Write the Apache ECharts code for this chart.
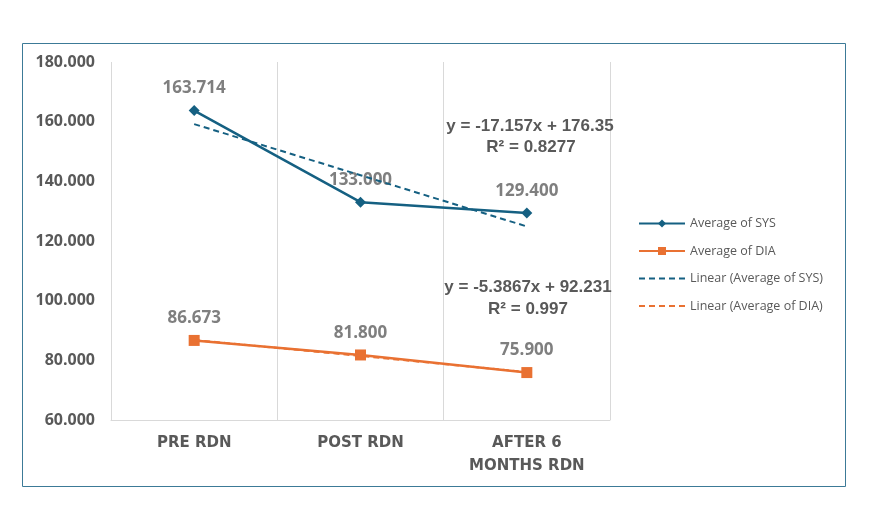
<!DOCTYPE html>
<html>
<head>
<meta charset="utf-8">
<script src="https://cdn.jsdelivr.net/npm/echarts@6/dist/echarts.min.js"></script>
<style>html,body{margin:0;padding:0;background:#fff;}#c{width:874px;height:517px;}</style>
</head>
<body>
<div id="c"></div>
<script>
var categories = ['PRE RDN', 'POST RDN', 'AFTER 6\nMONTHS RDN'];
var sysValues = [163.714, 133.000, 129.400];
var diaValues = [86.673, 81.800, 75.900];
var sysTrend = [159.19, 142.04, 124.88];
var diaTrend = [86.84, 81.46, 76.07];
var sysEquation = ['y = -17.157x + 176.35', 'R\u00B2 = 0.8277'];
var diaEquation = ['y = -5.3867x + 92.231', 'R\u00B2 = 0.997'];

var SYS = '#156082', DIA = '#E97132';
var chart = echarts.init(document.getElementById('c'));
var eqStyle = {fill: '#595959', font: 'bold 17px "Liberation Sans"', textAlign: 'center', textVerticalAlign: 'middle'};
function eq(x, y, t) { return {type: 'text', x: x, y: y, style: Object.assign({text: t}, eqStyle), z: 10}; }
var labelCfg = {show: true, position: 'top', distance: 8, color: '#7f7f7f', fontWeight: 'bold', fontSize: 17,
  fontFamily: 'Open Sans', formatter: function (p) { return p.value.toFixed(3); }};

chart.setOption({
  animation: false,
  textStyle: {fontFamily: 'Open Sans'},
  grid: {left: 111, right: 264, top: 62, bottom: 97},
  xAxis: {
    type: 'category', data: categories, boundaryGap: true,
    axisLine: {lineStyle: {color: '#d9d9d9', width: 1}},
    axisTick: {show: false},
    splitLine: {show: true, lineStyle: {color: '#d9d9d9', width: 1}},
    axisLabel: {color: '#595959', fontFamily: 'DejaVu Sans', fontWeight: 'bold', fontSize: 15, lineHeight: 23, margin: 12}
  },
  yAxis: {
    type: 'value', min: 60, max: 180, interval: 20,
    axisLine: {show: false}, axisTick: {show: false}, splitLine: {show: false},
    axisLabel: {color: '#595959', fontWeight: 'bold', fontSize: 16, margin: 16,
      formatter: function (v) { return v.toFixed(3); }}
  },
  legend: {
    orient: 'vertical', left: 633, top: 212, itemWidth: 46, itemHeight: 10, itemGap: 14.5,
    textStyle: {color: '#595959', fontSize: 12.5, fontFamily: 'Open Sans'},
    data: ['Average of SYS', 'Average of DIA',
      {name: 'Linear (Average of SYS)', itemStyle: {color: 'rgba(0,0,0,0)', borderWidth: 0, opacity: 0}},
      {name: 'Linear (Average of DIA)', itemStyle: {color: 'rgba(0,0,0,0)', borderWidth: 0, opacity: 0}}]
  },
  graphic: [
    {type: 'rect', shape: {x: 22.5, y: 43.5, width: 823, height: 443}, style: {fill: 'none', stroke: '#3c7a97', lineWidth: 1}},
    eq(530, 126, sysEquation[0]), eq(531, 147, sysEquation[1]),
    eq(528, 287, diaEquation[0]), eq(528, 309, diaEquation[1])
  ],
  series: [
    {name: 'Linear (Average of SYS)', type: 'line', data: sysTrend, symbol: 'none', z: 3,
      lineStyle: {color: SYS, width: 2, type: [6, 4]}, itemStyle: {color: SYS}},
    {name: 'Linear (Average of DIA)', type: 'line', data: diaTrend, symbol: 'none', z: 3,
      lineStyle: {color: DIA, width: 2, type: [6, 4]}, itemStyle: {color: DIA}},
    {name: 'Average of SYS', type: 'line', data: sysValues, symbol: 'diamond', symbolSize: 11, z: 2,
      lineStyle: {color: SYS, width: 2.5}, itemStyle: {color: SYS}, label: labelCfg},
    {name: 'Average of DIA', type: 'line', data: diaValues, symbol: 'rect', symbolSize: 11, z: 2,
      lineStyle: {color: DIA, width: 2.5}, itemStyle: {color: DIA}, label: labelCfg}
  ]
});
</script>
</body>
</html>
